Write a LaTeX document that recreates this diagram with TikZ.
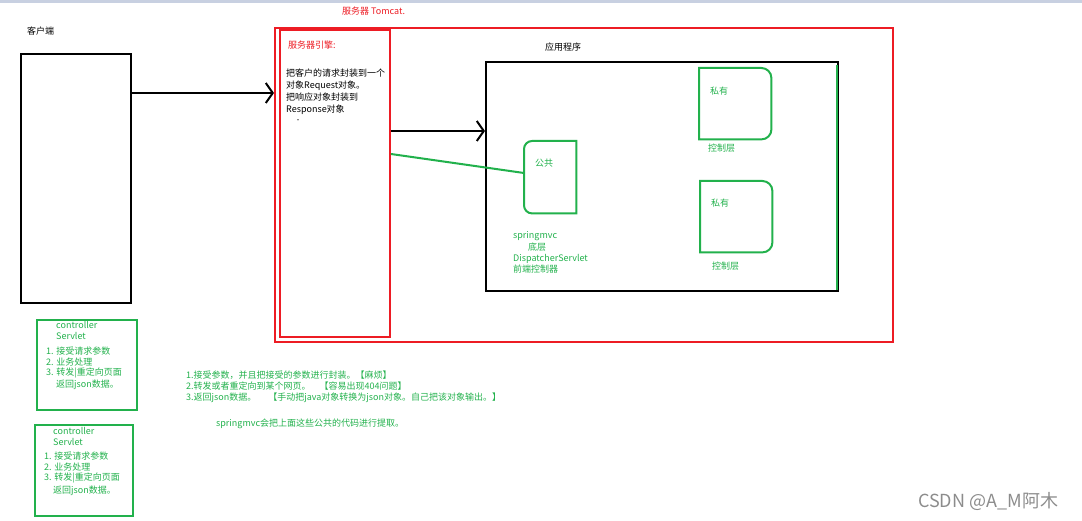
\documentclass[tikz,border=0pt]{standalone}
\usepackage{fontspec}
\setmainfont{Noto Sans CJK SC}
\usetikzlibrary{arrows.meta}
\definecolor{paintgreen}{RGB}{34,177,76}
\definecolor{paintred}{RGB}{237,28,36}
\definecolor{barblue}{RGB}{200,208,225}

\begin{document}
\begin{tikzpicture}[x=1pt,y=-1pt,
    every node/.style={font=\fontsize{9}{12}\selectfont, inner sep=0pt},
    txt/.style={anchor=west},
    gtxt/.style={anchor=west, text=paintgreen},
    rtxt/.style={anchor=west, text=paintred},
    box/.style={draw, line width=2pt, anchor=north west},
    gbox/.style={box, draw=paintgreen},
    rbox/.style={box, draw=paintred},
    plain/.style={anchor=north west},
    gline/.style={draw=paintgreen, line width=2pt},
    chev/.style={line width=2pt, -{Straight Barb[length=7pt,width=20pt]}}]
    \path[use as bounding box] (0,0) rectangle (1082,521);
    \fill[barblue] (0,0) rectangle (1082,3);

    \node[txt] (clientlabel) at (27,31) {客户端};
    \node[box, minimum width=110pt, minimum height=249pt] (client) at (20,53) {};

    \node[rtxt] (tomcatlabel) at (342,11) {服务器 Tomcat.};
    \node[rbox, minimum width=618pt, minimum height=314pt] (tomcat) at (274,27) {};
    \node[rbox, minimum width=110pt, minimum height=307pt] (engine) at (279,29) {};
    \node[rtxt] (enginelabel) at (288,45) {服务器引擎:};
    \node[anchor=north west, align=left] (enginetext) at (286,69)
        {把客户的请求封装到一个\\对象Request对象。\\把响应对象封装到\\Response对象};
    \node[txt, font=\fontsize{6}{6}\selectfont] (dot) at (295,121) {•};

    \node[txt] (applabel) at (545,47) {应用程序};
    \node[box, minimum width=352pt, minimum height=229pt] (app) at (485,61) {};
    \draw[gline] ([xshift=-2pt,yshift=-4pt]app.north east) -- ([xshift=-2pt,yshift=2pt]app.south east);

    \node[plain, minimum width=52pt, minimum height=72pt] (common) at (524,141) {};
    \draw[gline] (common.north east) -- ([xshift=8pt]common.north west)
        arc[start angle=90, end angle=180, radius=8pt] -- ([yshift=8pt]common.south west)
        arc[start angle=180, end angle=270, radius=8pt] -- (common.south east) -- cycle;
    \node[gtxt] (commonlabel) at (535,163) {公共};

    \node[plain, minimum width=72pt, minimum height=71pt] (private1) at (699,68) {};
    \draw[gline] (private1.north west) -- ([xshift=-10pt]private1.north east)
        arc[start angle=90, end angle=0, radius=10pt] -- ([yshift=10pt]private1.south east)
        arc[start angle=0, end angle=-90, radius=10pt] -- (private1.south west) -- cycle;
    \node[gtxt] (private1label) at (710,91) {私有};
    \node[gtxt] (ctrl1label) at (708,148) {控制层};

    \node[plain, minimum width=72pt, minimum height=71pt] (private2) at (700,181) {};
    \draw[gline] (private2.north west) -- ([xshift=-10pt]private2.north east)
        arc[start angle=90, end angle=0, radius=10pt] -- ([yshift=10pt]private2.south east)
        arc[start angle=0, end angle=-90, radius=10pt] -- (private2.south west) -- cycle;
    \node[gtxt] (private2label) at (711,203) {私有};
    \node[gtxt] (ctrl2label) at (712,266) {控制层};

    \node[gtxt] (mvc1) at (513,236) {springmvc};
    \node[gtxt] (mvc2) at (528,247) {底层};
    \node[gtxt] (mvc3) at (513,259) {DispatcherServlet};
    \node[gtxt] (mvc4) at (513,269) {前端控制器};

    \draw[chev] ([yshift=-40pt]client.north east) -- ([yshift=-40pt]client.north east -| tomcat.west);
    \draw[chev] ([yshift=-102pt]engine.north east) -- ([yshift=-102pt]engine.north east -| app.west);
    \draw[gline] ([yshift=-125pt]engine.north east) -- ([yshift=-32pt]common.north west);

    \node[gbox, minimum width=100pt, minimum height=90pt] (servlet1) at (36,319) {};
    \node[gtxt] (s1a) at (56,325) {controller};
    \node[gtxt] (s1b) at (56,336) {Servlet};
    \node[gtxt] (s1c) at (46,351) {1. 接受请求参数};
    \node[gtxt] (s1d) at (46,362) {2. 业务处理};
    \node[gtxt] (s1e) at (46,373) {3. 转发|重定向页面};
    \node[gtxt] (s1f) at (56,385) {返回json数据。};

    \node[gbox, minimum width=98pt, minimum height=91pt] (servlet2) at (34,424) {};
    \node[gtxt] (s2a) at (53,431) {controller};
    \node[gtxt] (s2b) at (53,442) {Servlet};
    \node[gtxt] (s2c) at (44,456) {1. 接受请求参数};
    \node[gtxt] (s2d) at (44,467) {2. 业务处理};
    \node[gtxt] (s2e) at (44,478) {3. 转发|重定向页面};
    \node[gtxt] (s2f) at (53,491) {返回json数据。};

    \node[gtxt] (note1) at (186,375) {1.接受参数，并且把接受的参数进行封装。【麻烦】};
    \node[gtxt] (note2) at (186,386) {2.转发或者重定向到某个网页。\hspace{9pt}【容易出现404问题】};
    \node[gtxt] (note3) at (186,398) {3.返回json数据。\hspace{12pt}【手动把java对象转换为json对象。自己把该对象输出。】};
    \node[gtxt] (note4) at (216,424) {springmvc会把上面这些公共的代码进行提取。};

    \node[txt, text=black!45, font=\fontsize{18}{18}\selectfont] (mark) at (918,502) {CSDN @A\_M阿木};
\end{tikzpicture}
\end{document}
